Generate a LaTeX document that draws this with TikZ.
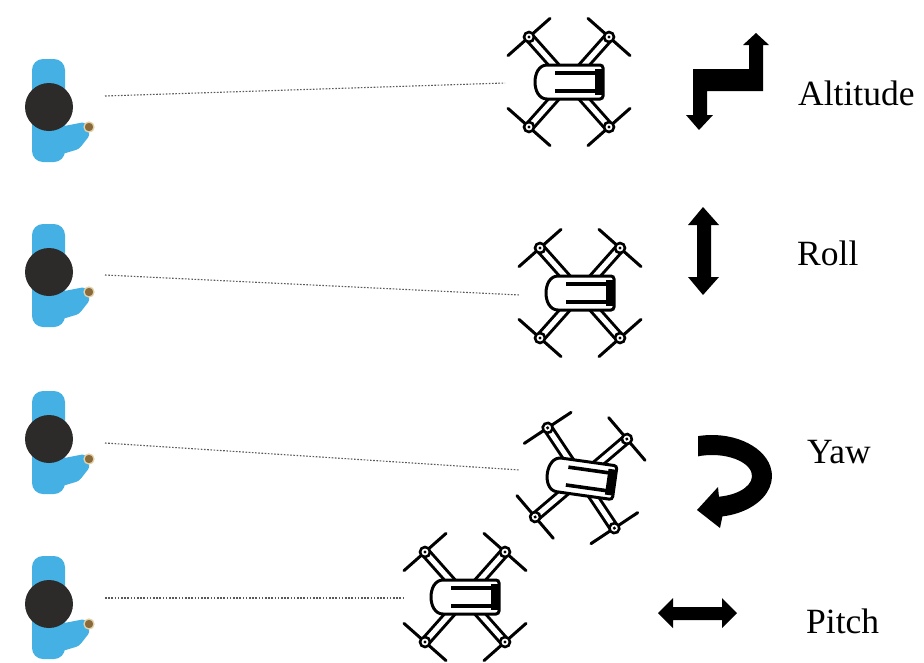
\documentclass[tikz,border=0pt]{standalone}
\usepackage{fontspec}
\setmainfont{Liberation Serif}
\definecolor{shirt}{HTML}{45B0E3}
\definecolor{hair}{HTML}{2D2A2A}
\definecolor{skin}{HTML}{8A6A3A}
\definecolor{skinring}{HTML}{E2D2AC}

\tikzset{
  % top view of a pilot, placed at the centre of the head
  pilot/.pic={
    \fill[shirt, rounded corners=11pt] (-17,-48) rectangle (16,55);
    \fill[shirt, rounded corners=3pt] (10,20) -- (36,15) -- (41,28) -- (30,42) -- (10,48) -- cycle;
    \fill[hair] (0,0) circle (24);
    \filldraw[fill=skin, draw=skinring, line width=1.3pt] (40,20) circle (5);
  },
  % top view of a quadcopter, placed at its centre
  drone/.pic={
    \foreach \sx/\sy in {-1/-1,1/-1,-1/1,1/1}{
      \draw[line width=11pt] (0,0) -- (40*\sx,45*\sy);
      \draw[line width=5pt, white] (0,0) -- (40*\sx,45*\sy);
      \draw[line width=3pt, line cap=round]
        (40*\sx-21*\sy,45*\sy+18.6*\sx) -- (40*\sx+21*\sy,45*\sy-18.6*\sx);
      \filldraw[fill=white, line width=2.6pt] (40*\sx,45*\sy) circle (5);
      \fill (40*\sx,45*\sy) circle (1.7);
    }
    \filldraw[fill=white, line width=3pt, rounded corners=3pt]
      (34,-17) -- (-19,-17) .. controls (-38,-17) and (-38,17) .. (-19,17) -- (34,17) -- cycle;
    \draw[line width=3.6pt] (-14,-9) -- (30,-9) (-14,9) -- (30,9);
    \fill (26,-13) rectangle (33,13);
  },
  sightline/.style={black!65, line width=1.1pt, dash pattern=on 1.6pt off 1.6pt},
  motionlabel/.style={inner sep=0pt, anchor=base west, font=\fontsize{35.5}{36}\selectfont},
  motionarrow/.style={fill=black},
}

\begin{document}
\begin{tikzpicture}[x=1pt, y=-1pt]
  \useasboundingbox[fill=white] (0,0) rectangle (924,662);

  % pilots
  \pic at (49,107) {pilot};
  \pic at (49,272) {pilot};
  \pic at (49,439) {pilot};
  \pic at (49,604) {pilot};

  % lines of sight
  \coordinate (eye1) at (105,96);   \coordinate (uav1) at (505,83);
  \coordinate (eye2) at (105,275);  \coordinate (uav2) at (520,295);
  \coordinate (eye3) at (105,443);  \coordinate (uav3) at (520,470);
  \coordinate (eye4) at (105,598);  \coordinate (uav4) at (405,598);
  \draw[sightline] (eye1) -- (uav1);
  \draw[sightline] (eye2) -- (uav2);
  \draw[sightline] (eye3) -- (uav3);
  \draw[sightline] (eye4) -- (uav4);

  % quadcopters
  \pic at (569,82) {drone};
  \pic at (580,293) {drone};
  \pic[rotate=-8] at (581,478) {drone};
  \pic at (465,597) {drone};

  % altitude: stepped double arrow
  \fill[motionarrow] (756,33) -- (769,45) -- (763,45) -- (763,91) -- (707,91) -- (707,115)
    -- (713,115) -- (699,130) -- (686,115) -- (693,115) -- (693,69) -- (749,69)
    -- (749,45) -- (743,45) -- cycle;

  % roll: vertical double arrow
  \fill[motionarrow] (703,207) -- (719,225) -- (711,225) -- (711,277) -- (719,277)
    -- (703,295) -- (688,277) -- (697,277) -- (697,225) -- (688,225) -- cycle;

  % yaw: curved arrow
  \fill[motionarrow] (712,476) ++(-103.5:60 and 41)
    arc[start angle=-103.5, end angle=80, x radius=60, y radius=41]
    -- (720,528) -- (697,510) -- (718,487) -- (718.95,496.68)
    arc[start angle=80, end angle=-110.5, x radius=40, y radius=21] -- cycle;

  % pitch: horizontal double arrow
  \fill[motionarrow] (658,613) -- (673,598) -- (673,607) -- (722,607) -- (722,598)
    -- (737,613) -- (722,628) -- (722,620) -- (673,620) -- (673,628) -- cycle;

  % labels
  \node[motionlabel] (altitude) at (798,105) {Altitude};
  \node[motionlabel] (roll) at (797,265) {Roll};
  \node[motionlabel] (yaw) at (807,463) {Yaw};
  \node[motionlabel] (pitch) at (806,633) {Pitch};
\end{tikzpicture}
\end{document}
